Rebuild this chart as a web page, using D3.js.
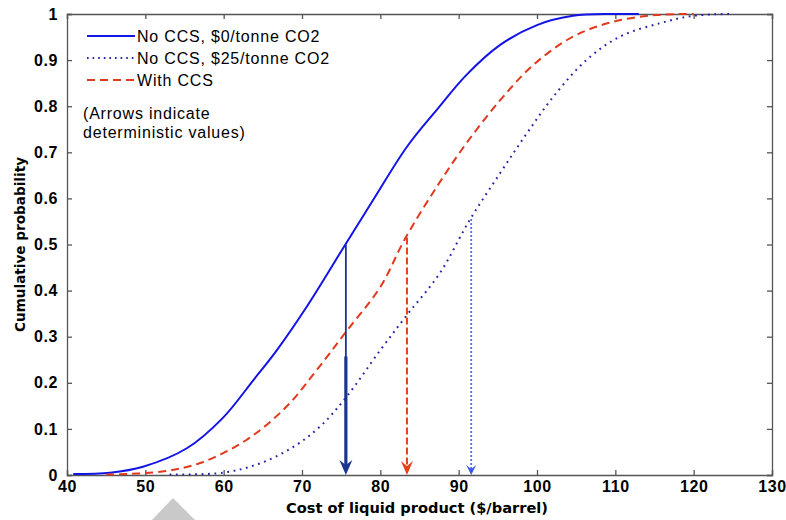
<!DOCTYPE html>
<html lang="en">
<head>
    <meta charset="UTF-8">
    <title>Cumulative probability of liquid product cost</title>
    <script src="https://d3js.org/d3.v7.min.js"></script>
    <style>
        html, body {
            margin: 0;
            padding: 0;
            background: #fff;
            overflow: hidden;
        }

        .tick text {
            font-family: "Liberation Sans", Arial, sans-serif;
            font-size: 16px;
            font-weight: bold;
            letter-spacing: 0.6px;
            fill: #000;
        }

        .axis path, .axis line {
            stroke: #555;
            stroke-width: 1.3px;
        }

        .axis-label {
            font-family: "DejaVu Sans", Verdana, sans-serif;
            font-weight: bold;
        }

        .legend text {
            font-family: "Liberation Sans", Arial, sans-serif;
            font-size: 16px;
            letter-spacing: 0.8px;
        }
    </style>
</head>
<body>
    <svg id="chart" width="786" height="520"></svg>

    <script>
        // values
        const costNoCcs0 = [40.8, 45.5, 49.7, 55.3, 59.9, 63.8, 66.8, 70.6, 75.5, 79.1, 83.4, 87.2, 91.0, 95.3, 100.0, 104.6, 109.7, 113.0];
        const probNoCcs0 = [0.002, 0.005, 0.018, 0.058, 0.124, 0.206, 0.271, 0.365, 0.499, 0.597, 0.712, 0.792, 0.868, 0.933, 0.976, 0.996, 1.0, 1.0];

        const costNoCcs25 = [53.1, 59.9, 64.6, 68.9, 72.3, 75.7, 80.0, 83.4, 87.6, 91.4, 95.3, 98.7, 102.1, 106.3, 110.6, 115.7, 119.9, 124.6];
        const probNoCcs25 = [0.001, 0.005, 0.025, 0.061, 0.105, 0.170, 0.271, 0.347, 0.438, 0.553, 0.655, 0.741, 0.821, 0.900, 0.951, 0.980, 0.996, 1.0];

        const costWithCcs = [45.0, 51.9, 57.0, 62.9, 68.0, 71.9, 75.5, 80.0, 83.2, 87.2, 91.0, 95.3, 99.5, 104.6, 109.7, 115.3, 120.0];
        const probWithCcs = [0.001, 0.007, 0.026, 0.076, 0.148, 0.228, 0.308, 0.408, 0.514, 0.625, 0.720, 0.813, 0.889, 0.951, 0.983, 0.998, 1.0];

        // deterministic values (arrows)
        const arrowCost = [75.6, 83.4, 91.6];
        const arrowTop = [0.50, 0.515, 0.555];

        const xTicks = [40, 50, 60, 70, 80, 90, 100, 110, 120, 130];
        const yTicks = [0, 0.1, 0.2, 0.3, 0.4, 0.5, 0.6, 0.7, 0.8, 0.9, 1];

        const legendLabels = ["No CCS, $0/tonne CO2", "No CCS, $25/tonne CO2", "With CCS"];

        const W = 786, H = 520;
        const margin = {top: 14, right: 14, bottom: 45, left: 67};

        const svg = d3.select("#chart");

        const x = d3.scaleLinear().domain([40, 130]).range([margin.left, W - margin.right]);
        const y = d3.scaleLinear().domain([0, 1]).range([H - margin.bottom, margin.top]);

        // axes, ticks pointing inward, mirrored on top and right
        svg.append("g")
            .attr("class", "axis")
            .attr("transform", `translate(0,${y(0)})`)
            .call(d3.axisBottom(x).tickValues(xTicks).tickSize(-5).tickPadding(6).tickFormat(d3.format("d")));

        svg.append("g")
            .attr("class", "axis")
            .attr("transform", `translate(0,${y(1)})`)
            .call(d3.axisTop(x).tickValues(xTicks).tickSize(-5).tickFormat(""));

        svg.append("g")
            .attr("class", "axis")
            .attr("transform", `translate(${x(40)},0)`)
            .call(d3.axisLeft(y).tickValues(yTicks).tickSize(-5).tickPadding(9).tickFormat(d => d3.format("")(d)));

        svg.append("g")
            .attr("class", "axis")
            .attr("transform", `translate(${x(130)},0)`)
            .call(d3.axisRight(y).tickValues(yTicks).tickSize(-5).tickFormat(""));

        svg.selectAll(".axis .domain").attr("stroke", "#555");

        // curves
        const line = d3.line()
            .x(d => x(d[0]))
            .y(d => y(d[1]))
            .curve(d3.curveCatmullRom.alpha(0.5));

        const series = [
            {cost: costNoCcs0, prob: probNoCcs0, color: "#1414e6", dash: null, width: 2},
            {cost: costNoCcs25, prob: probNoCcs25, color: "#2424aa", dash: "1.8,4.6", width: 2},
            {cost: costWithCcs, prob: probWithCcs, color: "#e0391c", dash: "8,5", width: 2}
        ];

        svg.append("g")
            .selectAll("path")
            .data(series)
            .join("path")
            .attr("fill", "none")
            .attr("stroke", d => d.color)
            .attr("stroke-width", d => d.width)
            .attr("stroke-dasharray", d => d.dash)
            .attr("d", d => line(d3.zip(d.cost, d.prob)));

        // arrows
        const arrows = svg.append("g");

        function arrowHead(cx, tipY, w, h, notch) {
            return `M${cx},${tipY} L${cx - w / 2},${tipY - h} L${cx},${tipY - h + notch} L${cx + w / 2},${tipY - h} Z`;
        }

        // navy solid arrow
        arrows.append("line")
            .attr("x1", x(arrowCost[0])).attr("x2", x(arrowCost[0]))
            .attr("y1", y(arrowTop[0])).attr("y2", y(0) - 6)
            .attr("stroke", "#1c3590").attr("stroke-width", 1.8);
        arrows.append("line")
            .attr("x1", x(arrowCost[0])).attr("x2", x(arrowCost[0]))
            .attr("y1", y(0.257)).attr("y2", y(0) - 6)
            .attr("stroke", "#1c3590").attr("stroke-width", 3.2);
        arrows.append("path")
            .attr("d", arrowHead(x(arrowCost[0]), y(0), 13, 15, 5))
            .attr("fill", "#1c3590");

        // red dashed arrow
        arrows.append("line")
            .attr("x1", x(arrowCost[1])).attr("x2", x(arrowCost[1]))
            .attr("y1", y(arrowTop[1])).attr("y2", y(0) - 6)
            .attr("stroke", "#e8421c").attr("stroke-width", 2)
            .attr("stroke-dasharray", "7,3");
        arrows.append("path")
            .attr("d", arrowHead(x(arrowCost[1]), y(0), 12, 14, 5))
            .attr("fill", "#e8421c");

        // blue dotted arrow
        arrows.append("line")
            .attr("x1", x(arrowCost[2])).attr("x2", x(arrowCost[2]))
            .attr("y1", y(arrowTop[2])).attr("y2", y(0) - 3)
            .attr("stroke", "#1f3cf0").attr("stroke-width", 1.8)
            .attr("stroke-dasharray", "1.5,2.5");
        arrows.append("path")
            .attr("d", arrowHead(x(arrowCost[2]), y(0), 10, 10, 4))
            .attr("fill", "#1f3cf0").attr("fill-opacity", 0.85);

        // legend
        const legend = svg.append("g").attr("class", "legend");
        const rowY = [36, 58, 80];
        legendLabels.forEach((label, i) => {
            legend.append("line")
                .attr("x1", 87).attr("x2", 135)
                .attr("y1", rowY[i]).attr("y2", rowY[i])
                .attr("stroke", series[i].color)
                .attr("stroke-width", 2)
                .attr("stroke-dasharray", i === 0 ? null : (i === 1 ? "1.6,4" : "8,5"));
            legend.append("text")
                .attr("x", 137).attr("y", rowY[i] + 6)
                .text(label);
        });
        legend.append("text").attr("x", 83).attr("y", 119).text("(Arrows indicate");
        legend.append("text").attr("x", 83).attr("y", 138).text("deterministic values)");

        // axis labels
        svg.append("text")
            .attr("class", "axis-label")
            .attr("x", 417)
            .attr("y", 513)
            .attr("text-anchor", "middle")
            .style("font-size", "14.6px")
            .text("Cost of liquid product ($/barrel)");

        svg.append("text")
            .attr("class", "axis-label")
            .attr("transform", `translate(25,${(y(0) + y(1)) / 2}) rotate(-90)`)
            .attr("text-anchor", "middle")
            .style("font-size", "13.6px")
            .text("Cumulative probability");

        // grey watermark fragment at the bottom edge
        svg.append("path")
            .attr("d", "M173,498 L151,521 L196,521 Z")
            .attr("fill", "#c9c9c9");
    </script>
</body>
</html>
